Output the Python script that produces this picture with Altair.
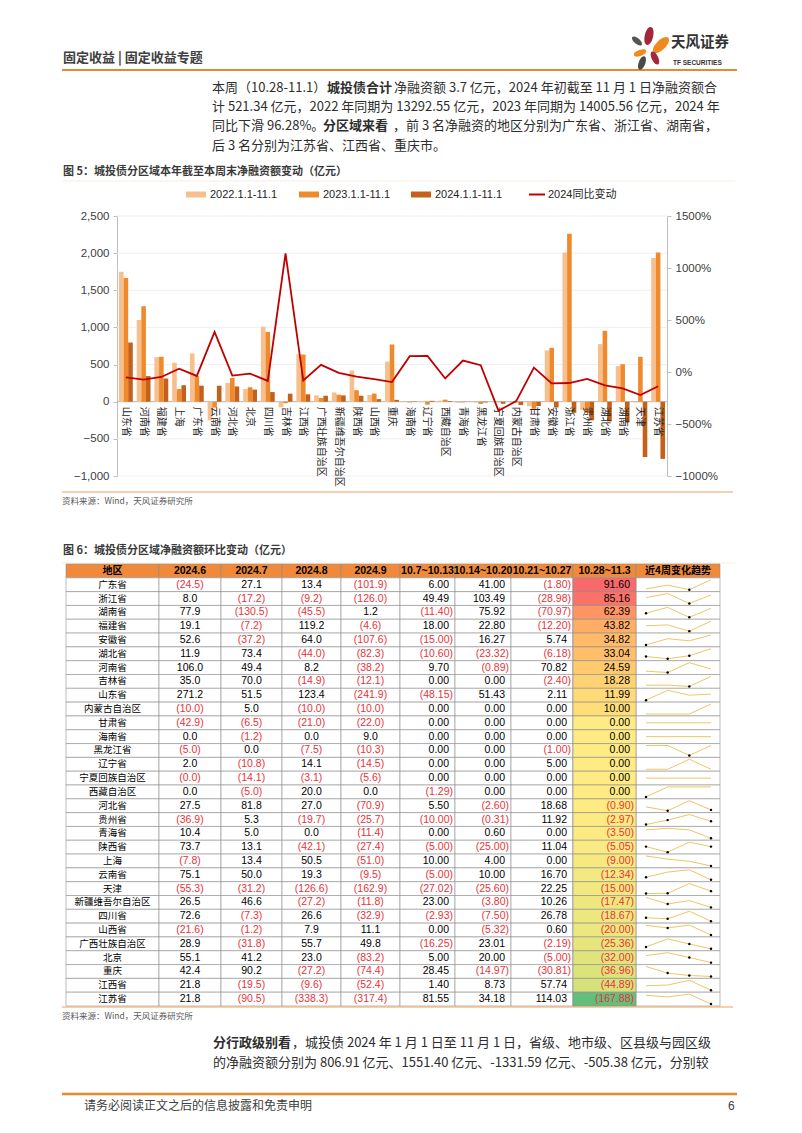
import altair as alt
import pandas as pd

# ---------------- data: figure 5 ----------------
REGIONS = ["山东省", "河南省", "福建省", "上海", "广东省", "云南省", "河北省", "北京", "四川省", "吉林省",
           "江西省", "广西壮族自治区", "新疆维吾尔自治区", "陕西省", "山西省", "重庆", "海南省", "辽宁省",
           "西藏自治区", "青海省", "黑龙江省", "宁夏回族自治区", "内蒙古自治区", "甘肃省", "安徽省",
           "浙江省", "贵州省", "湖北省", "湖南省", "天津", "江苏省"]
V2022 = [1750, 1100, 600, 525, 650, -250, 252, 170, 1010, -75, 640, 85, 125, 420, 90, 540, 3, 8, 15, -15,
         -10, -3, -8, -60, 690, 2010, -110, 775, 478, -10, 1935]
V2023 = [1665, 1285, 605, 170, 345, -80, 320, 195, 940, -20, 635, 50, 95, 155, 110, 770, -9, -40, 28, -8,
         -30, -6, -12, -95, 725, 2260, -150, 955, 505, 604, 2010]
V2024 = [797, 345, 312, 222, 216, 215, 205, 163, 130, 108, 100, 80, 85, 80, 35, 25, 5, 12, 10, 1,
         -10, -28, -45, -58, -77, -150, -250, -265, -275, -745, -770]
YOY_PCT = [-52, -73, -48, 32, -38, 385, -35, -16, -86, 1140, -82, 68, -8, -45, -68, -97, 152, 155, -62, 110,
           65, -372, -280, 42, -110, -106, -67, -128, -158, -222, -137]
SERIES = ["2022.1.1-11.1", "2023.1.1-11.1", "2024.1.1-11.1"]
LINE_NAME = "2024同比变动"
LEFT_TICKS = [-1000, -500, 0, 500, 1000, 1500, 2000, 2500]
RIGHT_TICKS = [-10, -5, 0, 5, 10, 15]

# ---------------- data: figure 6 (table) ----------------
HEADERS = ["地区", "2024.6", "2024.7", "2024.8", "2024.9", "10.7~10.13", "10.14~10.20", "10.21~10.27",
           "10.28~11.3", "近4周变化趋势"]
AREAS = ["广东省", "浙江省", "湖南省", "福建省", "安徽省", "湖北省", "河南省", "吉林省", "山东省", "内蒙古自治区",
         "甘肃省", "海南省", "黑龙江省", "辽宁省", "宁夏回族自治区", "西藏自治区", "河北省", "贵州省", "青海省",
         "陕西省", "上海", "云南省", "天津", "新疆维吾尔自治区", "四川省", "山西省", "广西壮族自治区", "北京",
         "重庆", "江西省", "江苏省"]
M6 = [-24.5, 8.0, 77.9, 19.1, 52.6, 11.9, 106.0, 35.0, 271.2, -10.0, -42.9, 0.0, -5.0, 2.0, -0.04, 0.0,
      27.5, -36.9, 10.4, 73.7, -7.8, 75.1, -55.3, 26.5, 72.6, -21.6, 28.9, 55.1, 42.4, 21.8, 21.8]
M7 = [27.1, -17.2, -130.5, -7.2, -37.2, 73.4, 49.4, 70.0, 51.5, 5.0, -6.5, -1.2, 0.0, -10.8, -14.1, -5.0,
      81.8, 5.3, 5.0, 13.1, 13.4, 50.0, -31.2, 46.6, -7.3, -1.2, -31.8, 41.2, 90.2, -19.5, -90.5]
M8 = [13.4, -9.2, -45.5, 119.2, 64.0, -44.0, 8.2, -14.9, 123.4, -10.0, -21.0, 0.0, -7.5, 14.1, -3.1, 20.0,
      27.0, -19.7, 0.0, -42.1, 50.5, 19.3, -126.6, -27.2, 26.6, 7.9, 55.7, 23.0, -27.2, -9.6, -338.3]
M9 = [-101.9, -126.0, 1.2, -4.6, -107.6, -82.3, -38.2, -12.1, -241.9, -10.0, -22.0, 9.0, -10.3, -14.5, -5.6,
      0.0, -70.9, -25.7, -11.4, -27.4, -51.0, -9.5, -162.9, -11.8, -32.9, 11.1, 49.8, -83.2, -74.4, -52.4, -317.4]
W1 = [6.00, 49.49, -11.40, 18.00, -15.00, -10.60, 9.70, 0.00, -48.15, 0.00, 0.00, 0.00, 0.00, 0.00, 0.00,
      -1.29, 5.50, -10.00, 0.00, -5.00, 10.00, -5.00, -27.02, 23.00, -2.93, 0.00, -16.25, 5.00, 28.45, 1.40, 81.55]
W2 = [41.00, 103.49, 75.92, 22.80, 16.27, -23.32, -0.89, 0.00, 51.43, 0.00, 0.00, 0.00, 0.00, 0.00, 0.00,
      0.00, -2.60, -0.31, 0.60, -25.00, 4.00, 10.00, -25.60, -3.80, -7.50, -5.32, 23.01, 20.00, -14.97, 8.73, 34.18]
W3 = [-1.80, -28.98, -70.97, -12.20, 5.74, -6.18, 70.82, -2.40, 2.11, 0.00, 0.00, 0.00, -1.00, 5.00, 0.00,
      0.00, 18.68, 11.92, 0.00, 11.04, 0.00, 16.70, 22.25, 10.26, 26.78, 0.60, -2.19, -5.00, -30.81, 57.74, 114.03]
W4 = [91.60, 85.16, 62.39, 43.82, 34.82, 33.04, 24.59, 18.28, 11.99, 10.00, 0.00, 0.00, 0.00, 0.00, 0.00,
      0.00, -0.90, -2.97, -3.50, -5.05, -9.00, -12.34, -15.00, -17.47, -18.67, -20.00, -25.36, -32.00,
      -36.96, -44.89, -167.88]

# ---------------- layout & style ----------------
W, H = 786, 1116
def X(px): return px - 8
def Y(py): return py - 8

CJK = "Noto Sans CJK SC"
LAT = "Liberation Sans, Noto Sans CJK SC"
NARROW = "Liberation Sans Narrow, Arial Narrow, Liberation Sans, Noto Sans CJK SC"
ORANGE = "#E8892B"
BAR_COLORS = ["#F7BF8E", "#EE8A2C", "#C5601A"]
LINE_COLOR = "#C00000"
RED = "#E8333A"
TEXT = "#2E2E2E"

one = pd.DataFrame({"k": [0]})

def txt(x, y, s, size=13, color=TEXT, weight="normal", font=CJK, align="left"):
    return alt.Chart(pd.DataFrame({"t": [s]})).mark_text(
        align=align, baseline="middle", fontSize=size, color=color, fontWeight=weight, font=font
    ).encode(x=alt.value(X(x)), y=alt.value(Y(y)), text="t:N")

def hline(x0, x1, y, color, width):
    return alt.Chart(one).mark_rule(color=color, strokeWidth=width).encode(
        x=alt.value(X(x0)), x2=alt.value(X(x1)), y=alt.value(Y(y)))

def box(x0, x1, y0, y1, color):
    return alt.Chart(one).mark_rect(color=color).encode(
        x=alt.value(X(x0)), x2=alt.value(X(x1)), y=alt.value(Y(y0)), y2=alt.value(Y(y1)))

layers = []

# ---------- page header ----------
layers.append(txt(63, 58, "固定收益 | 固定收益专题", size=13, color="#404040", weight="bold"))
layers.append(hline(62, 737, 70, ORANGE, 2))
PETAL = "M0,-1C0.62,-1,0.62,1,0,1C-0.62,1,-0.62,-1,0,-1Z"
petals = pd.DataFrame({
    "x": [X(649), X(661), X(637), X(640), X(655), X(642)],
    "y": [Y(36), Y(45), Y(41), Y(53), Y(58), Y(63)],
    "s": [330, 420, 150, 170, 200, 200],
    "a": [12, 45, -50, 70, -25, 20],
    "c": ["#A3263A", "#EE8A1E", "#555555", "#EE8A1E", "#A3263A", "#4A4A4A"],
})
layers.append(alt.Chart(petals).mark_point(filled=True, shape=PETAL, opacity=1).encode(
    x=alt.X("x:Q", scale=None), y=alt.Y("y:Q", scale=None), size=alt.Size("s:Q", scale=None),
    angle=alt.Angle("a:Q", scale=None), color=alt.Color("c:N", scale=None)))
layers.append(txt(671, 42.5, "天风证券", size=14.5, color="#333333", weight="bold"))
layers.append(txt(673, 62.5, "TF SECURITIES", size=6.5, color="#333333", weight="bold", font=LAT))

# ---------- paragraph 1 ----------
layers.append(txt(212, 87.5, "本周（10.28-11.1）"))
layers.append(txt(327, 87.5, "城投债合计", weight="bold"))
layers.append(txt(394, 87.5, "净融资额 3.7 亿元，2024 年初截至 11 月 1 日净融资额合"))
layers.append(txt(212, 106.5, "计 521.34 亿元，2022 年同期为 13292.55 亿元，2023 年同期为 14005.56 亿元，2024 年"))
layers.append(txt(212, 126, "同比下滑  96.28%。"))
layers.append(txt(323, 126, "分区域来看", weight="bold"))
layers.append(txt(393, 126, "，前  3  名净融资的地区分别为广东省、浙江省、湖南省，"))
layers.append(txt(212, 145.5, "后 3 名分别为江苏省、江西省、重庆市。"))

# ---------- figure 5 ----------
layers.append(txt(63, 172, "图 5：城投债分区域本年截至本周末净融资额变动（亿元）", size=11, color="#3A3A3A", weight="bold"))
layers.append(hline(62, 735, 181, "#F6E1CC", 0.6))
LEG_X = [186, 299, 411]
for i, name in enumerate(SERIES):
    layers.append(box(LEG_X[i], LEG_X[i] + 20, 191.5, 197.5, BAR_COLORS[i]))
    layers.append(txt(LEG_X[i] + 24, 194.5, name, size=11, color="#262626", font=LAT))
layers.append(hline(529, 545, 194.5, LINE_COLOR, 2))
layers.append(txt(548, 194.5, LINE_NAME, size=11, color="#262626", font=LAT))

xs = alt.Scale(domain=REGIONS, range=[X(117), X(667)], paddingInner=0.22, paddingOuter=0.11)
ys = alt.Scale(domain=[-1000, 2500], range=[Y(476), Y(216)], nice=False, zero=False)
yr = alt.Scale(domain=[-10, 15], range=[Y(476), Y(216)], nice=False, zero=False)
left_axis = alt.Axis(orient="left", offset=-X(117), values=LEFT_TICKS, format=",d", grid=False,
                     labelFont=LAT, labelFontSize=11.5, labelColor="#404040", labelPadding=4,
                     tickSize=4, tickColor="#BFBFBF", domainColor="#BFBFBF", title=None)
right_axis = alt.Axis(orient="right", offset=-(W - X(667)), values=RIGHT_TICKS, format=".0%", grid=False,
                      labelFont=LAT, labelFontSize=11.5, labelColor="#404040", labelPadding=4,
                      tickSize=4, tickColor="#BFBFBF", domainColor="#BFBFBF", title=None)
xenc = alt.X("region:N", scale=xs, axis=None)
yenc = alt.Y("value:Q", scale=ys, axis=left_axis, stack=None)

grid = alt.Chart(pd.DataFrame({"value": [t for t in LEFT_TICKS if t != 0]})).mark_rule(
    color="#EBEBEB", strokeWidth=0.8).encode(y=yenc, x=alt.value(X(117)), x2=alt.value(X(667)))
zero = alt.Chart(pd.DataFrame({"value": [0]})).mark_rule(color="#B5B5B5", strokeWidth=1).encode(
    y=yenc, x=alt.value(X(117)), x2=alt.value(X(667)))
bars_df = pd.DataFrame({
    "region": REGIONS * 3,
    "series": [SERIES[0]] * 31 + [SERIES[1]] * 31 + [SERIES[2]] * 31,
    "value": V2022 + V2023 + V2024,
})
bars = alt.Chart(bars_df).mark_bar().encode(
    x=xenc,
    xOffset=alt.XOffset("series:N", scale=alt.Scale(domain=SERIES, paddingInner=0, paddingOuter=0)),
    y=yenc,
    color=alt.Color("series:N", scale=alt.Scale(domain=SERIES, range=BAR_COLORS), legend=None),
)
xlabels = alt.Chart(pd.DataFrame({"region": REGIONS, "value": [0] * 31})).mark_text(
    angle=90, align="left", baseline="middle", dx=5, font=CJK, fontSize=10, color="#262626"
).encode(x=xenc, y=yenc, text="region:N")
left_part = alt.layer(grid, zero, bars, xlabels)
line = alt.Chart(pd.DataFrame({"region": REGIONS, "idx": list(range(31)),
                               "yoy": [p / 100 for p in YOY_PCT]})).mark_line(
    color=LINE_COLOR, strokeWidth=1.8).encode(
    x=xenc, y=alt.Y("yoy:Q", scale=yr, axis=right_axis), order=alt.Order("idx:Q"))
fig5 = alt.layer(left_part, line).resolve_scale(y="independent")
layers.append(fig5)

layers.append(hline(62, 733, 492, "#F0A05A", 1.2))
layers.append(txt(62, 501, "资料来源：Wind，天风证券研究所", size=8.5, color="#595959"))

# ---------- figure 6: table ----------
layers.append(txt(63, 551, "图 6：城投债分区域净融资额环比变动（亿元）", size=11, color="#3A3A3A", weight="bold"))
layers.append(hline(62, 735, 563, "#F6E1CC", 0.6))

COL_EDGES = [66, 159, 221, 282, 341, 400, 455, 511, 573, 636, 720]
NROWS = len(AREAS) + 1
rows_scale = alt.Scale(domain=[0, NROWS], range=[Y(564), Y(1006)], nice=False, zero=False)
HDR_FILL = "#F08A3A"
GRID_C = "#8F8F8F"

cells = pd.DataFrame([
    {"x0": X(COL_EDGES[c]), "x1": X(COL_EDGES[c + 1]), "row": r, "row2": r + 1}
    for r in range(NROWS) for c in range(len(HEADERS))
])
cell_layer = alt.Chart(cells).mark_rect(stroke=GRID_C, strokeWidth=0.6).encode(
    x=alt.X("x0:Q", scale=None), x2="x1:Q",
    y=alt.Y("row:Q", scale=rows_scale, axis=None), y2="row2:Q",
    color=alt.condition("datum.row == 0", alt.value(HDR_FILL), alt.value("#FFFFFF")),
)
w4_cells = pd.DataFrame({"x0": X(COL_EDGES[8]), "x1": X(COL_EDGES[9]),
                         "row": list(range(1, NROWS)), "row2": list(range(2, NROWS + 1)), "v": W4})
w4_layer = alt.Chart(w4_cells).mark_rect(stroke=GRID_C, strokeWidth=0.6).encode(
    x=alt.X("x0:Q", scale=None), x2="x1:Q",
    y=alt.Y("row:Q", scale=rows_scale, axis=None), y2="row2:Q",
    color=alt.Color("v:Q", scale=alt.Scale(domain=[min(W4), 0, max(W4)],
                                           range=["#63BE7B", "#FFEB84", "#F8696B"]), legend=None),
)
hdr_df = pd.DataFrame({"x": [X((COL_EDGES[c] + COL_EDGES[c + 1]) / 2) for c in range(len(HEADERS))],
                       "rowc": 0.5, "t": HEADERS, "cjk": [c in (0, 9) for c in range(len(HEADERS))]})
hdr_cjk = alt.Chart(hdr_df[hdr_df.cjk]).mark_text(
    align="center", baseline="middle", fontSize=10, fontWeight="bold", font=CJK, color="#000000").encode(
    x=alt.X("x:Q", scale=None), y=alt.Y("rowc:Q", scale=rows_scale, axis=None), text="t:N")
hdr_num = alt.Chart(hdr_df[~hdr_df.cjk]).mark_text(
    align="center", baseline="middle", fontSize=10.5, fontWeight="bold", font=NARROW, color="#000000").encode(
    x=alt.X("x:Q", scale=None), y=alt.Y("rowc:Q", scale=rows_scale, axis=None), text="t:N")
names_df = pd.DataFrame({"x": X((COL_EDGES[0] + COL_EDGES[1]) / 2), "rowc": [r + 1.5 for r in range(len(AREAS))],
                         "t": AREAS})
names = alt.Chart(names_df).mark_text(align="center", baseline="middle", fontSize=9.5, font=CJK,
                                      color="#000000").encode(
    x=alt.X("x:Q", scale=None), y=alt.Y("rowc:Q", scale=rows_scale, axis=None), text="t:N")

month_rows = []
for c, vals in zip([1, 2, 3, 4], [M6, M7, M8, M9]):
    for r, v in enumerate(vals):
        month_rows.append({"x": X((COL_EDGES[c] + COL_EDGES[c + 1]) / 2), "rowc": r + 1.5, "v": v})
month_layer = alt.Chart(pd.DataFrame(month_rows)).transform_calculate(
    lab="datum.v < 0 ? '(' + format(-datum.v, '.1f') + ')' : format(datum.v, '.1f')"
).mark_text(align="center", baseline="middle", fontSize=10.5, font=LAT).encode(
    x=alt.X("x:Q", scale=None), y=alt.Y("rowc:Q", scale=rows_scale, axis=None), text="lab:N",
    color=alt.condition("datum.v < 0", alt.value(RED), alt.value("#000000")))

week_rows = []
for c, vals in zip([5, 6, 7, 8], [W1, W2, W3, W4]):
    for r, v in enumerate(vals):
        week_rows.append({"x1": X(COL_EDGES[c + 1]), "rowc": r + 1.5, "v": v})
week_layer = alt.Chart(pd.DataFrame(week_rows)).transform_calculate(
    lab="datum.v < 0 ? '(' + format(-datum.v, '.2f') + ')' : format(datum.v, '.2f')",
    xr="datum.x1 - (datum.v < 0 ? 2 : 6)"
).mark_text(align="right", baseline="middle", fontSize=10.5, font=NARROW).encode(
    x=alt.X("xr:Q", scale=None), y=alt.Y("rowc:Q", scale=rows_scale, axis=None), text="lab:N",
    color=alt.condition("datum.v < 0", alt.value(RED), alt.value("#000000")))

spark_rows = []
for r in range(len(AREAS)):
    for k, vals in enumerate([W1, W2, W3, W4]):
        spark_rows.append({"row": r + 1, "wk": k, "v": vals[r]})
spark_base = alt.Chart(pd.DataFrame(spark_rows)).transform_joinaggregate(
    vmin="min(v)", vmax="max(v)", groupby=["row"]
).transform_calculate(
    norm="datum.vmax == datum.vmin ? 0.5 : (datum.v - datum.vmin) / (datum.vmax - datum.vmin)"
).transform_calculate(
    yy="datum.row + 0.5 + (0.5 - datum.norm) * 0.72"
)
sx = alt.X("wk:Q", scale=alt.Scale(domain=[0, 3], range=[X(646), X(711)], nice=False, zero=False), axis=None)
sy = alt.Y("yy:Q", scale=rows_scale, axis=None)
spark_line = spark_base.mark_line(color="#EDC766", strokeWidth=1).encode(
    x=sx, y=sy, detail="row:N", order="wk:Q")
spark_dots = spark_base.transform_filter("datum.v < 0").mark_circle(color="#000000", size=6, opacity=1).encode(
    x=sx, y=sy)

table = alt.layer(cell_layer, w4_layer, hdr_cjk, hdr_num, names, month_layer, week_layer,
                  spark_line, spark_dots).resolve_scale(x="independent", color="independent")
layers.append(table)

layers.append(hline(62, 733, 1007, "#F0A05A", 1.0))
layers.append(txt(62, 1016, "资料来源：Wind，天风证券研究所", size=8.5, color="#595959"))

# ---------- paragraph 2 ----------
layers.append(txt(213, 1043, "分行政级别看", weight="bold"))
layers.append(txt(292, 1043, "，城投债 2024 年 1 月 1 日至 11 月 1 日，省级、地市级、区县级与园区级"))
layers.append(txt(213, 1063, "的净融资额分别为 806.91 亿元、1551.40 亿元、-1331.59 亿元、-505.38 亿元，分别较"))

# ---------- footer ----------
layers.append(hline(62, 737, 1094, ORANGE, 2.5))
layers.append(txt(84, 1106, "请务必阅读正文之后的信息披露和免责申明", size=12, color="#404040"))
layers.append(txt(728, 1106, "6", size=12, color="#404040", font=LAT))

chart = alt.layer(*layers).resolve_scale(
    x="independent", y="independent", color="independent", size="independent", angle="independent"
).properties(width=W, height=H, padding=0, autosize="none", background="#FFFFFF"
).configure_view(stroke=None)

chart.save("out.html", embed_options={"renderer": "svg", "actions": False})
